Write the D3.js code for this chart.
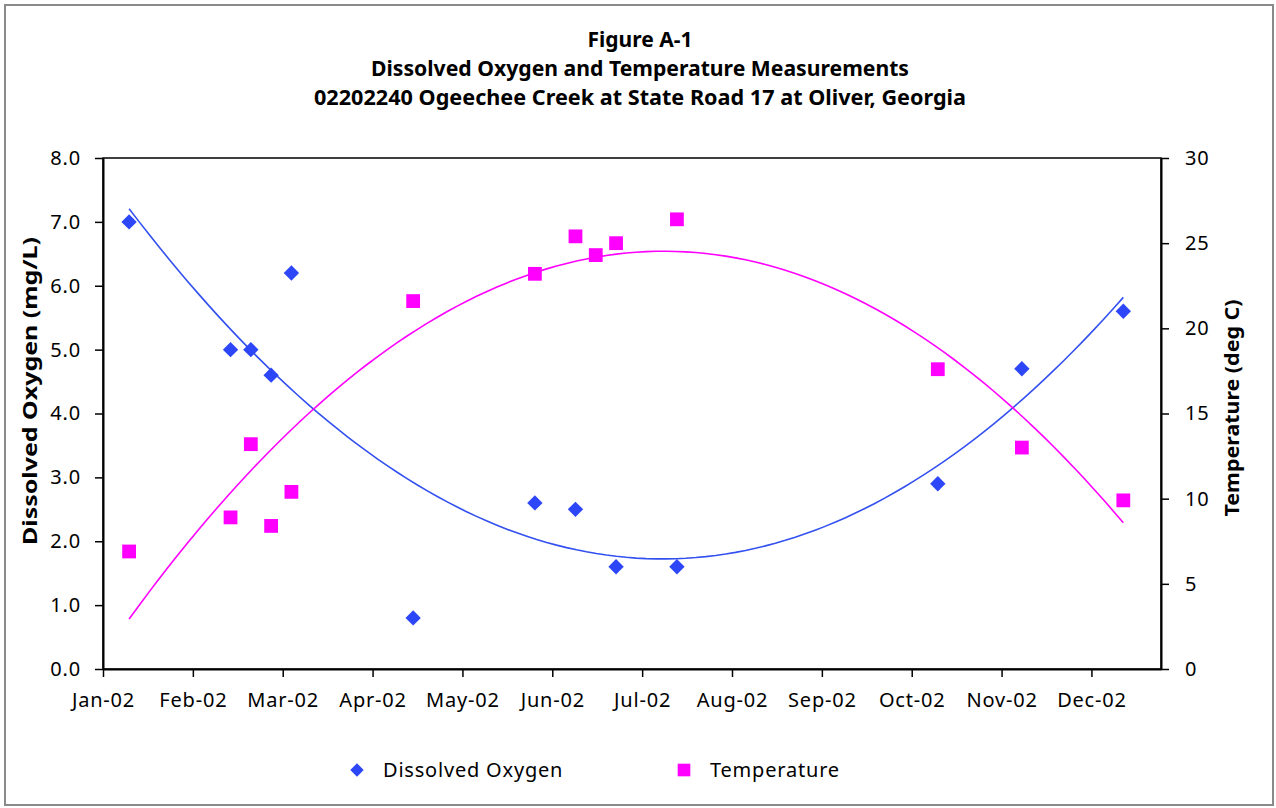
<!DOCTYPE html>
<html>
<head>
<meta charset="utf-8">
<script src="https://cdn.jsdelivr.net/npm/d3@7"></script>
<style>
  body { margin: 0; background: #fff; }
  text { font-family: "Noto Sans", sans-serif; fill: #000; }
</style>
</head>
<body>
<script>
const sampleDates = ["2002-01-10", "2002-02-14", "2002-02-21", "2002-02-28", "2002-03-07",
  "2002-04-18", "2002-05-30", "2002-06-13", "2002-06-20", "2002-06-27",
  "2002-07-18", "2002-10-16", "2002-11-14", "2002-12-19"];
const dissolvedOxygen = [7.0, 5.0, 5.0, 4.6, 6.2, 0.8, 2.6, 2.5, null, 1.6, 1.6, 2.9, 4.7, 5.6];
const temperature = [6.9, 8.9, 13.2, 8.4, 10.4, 21.6, 23.2, 25.4, 24.3, 25.0, 26.4, 17.6, 13.0, 9.9];

const leftTicks = [0, 1, 2, 3, 4, 5, 6, 7, 8];
const rightTicks = [0, 5, 10, 15, 20, 25, 30];
const titleLines = ["Figure A-1", "Dissolved Oxygen and Temperature Measurements",
  "02202240 Ogeechee Creek at State Road 17 at Oliver, Georgia"];
const seriesNames = ["Dissolved Oxygen", "Temperature"];

const config = { width: 1276, height: 808 };
const margin = { left: 103, right: 1161, top: 158, bottom: 669 };
const blue = "#2d47f8";
const magenta = "#ff00ff";

const parse = d3.utcParse("%Y-%m-%d");
const start = Date.UTC(2002, 0, 1);
const DAY = 864e5;

// x axis: Excel-style date axis, major unit 31 days
const x = d3.scaleUtc()
  .domain([new Date(start), new Date(Date.UTC(2003, 0, 1))])
  .range([margin.left, margin.right]);
const xTicks = d3.range(12).map(i => new Date(start + i * 31 * DAY));

const yL = d3.scaleLinear().domain([0, 8]).range([margin.bottom, margin.top]);
const yR = d3.scaleLinear().domain([0, 30]).range([margin.bottom, margin.top]);

const svg = d3.select("body").append("svg")
  .attr("width", config.width)
  .attr("height", config.height);

svg.append("rect")
  .attr("x", 5).attr("y", 5)
  .attr("width", 1268).attr("height", 800)
  .attr("fill", "#fff").attr("stroke", "#8a8a8a").attr("stroke-width", 2);

// Title
svg.append("g").selectAll("text")
  .data(titleLines)
  .join("text")
  .attr("x", 640)
  .attr("y", (d, i) => 47 + i * 29)
  .attr("text-anchor", "middle")
  .attr("font-size", "21px")
  .attr("font-weight", "bold")
  .attr("textLength", (d, i) => [105, 538, 652][i])
  .attr("lengthAdjust", "spacingAndGlyphs")
  .text(d => d);

// plot area border
svg.append("rect")
  .attr("x", margin.left).attr("y", margin.top)
  .attr("width", margin.right - margin.left)
  .attr("height", margin.bottom - margin.top)
  .attr("fill", "none").attr("stroke", "#000").attr("stroke-width", 1.5);

const styleAxis = g => {
  g.select(".domain").attr("stroke", "#000").attr("stroke-width", 2);
  g.selectAll(".tick line").attr("stroke", "#000").attr("stroke-width", 1.5);
  g.selectAll(".tick text")
    .attr("font-family", "Noto Sans")
    .attr("font-size", "20px")
    .attr("letter-spacing", "0.8px")
    .attr("fill", "#000");
};

svg.append("g")
  .attr("transform", `translate(0,${margin.bottom})`)
  .call(d3.axisBottom(x).tickValues(xTicks).tickFormat(d3.utcFormat("%b-%y"))
    .tickSizeInner(8).tickSizeOuter(0).tickPadding(16))
  .call(styleAxis);

svg.append("g")
  .attr("transform", `translate(${margin.left},0)`)
  .call(d3.axisLeft(yL).tickValues(leftTicks).tickFormat(d3.format(".1f"))
    .tickSizeInner(8).tickSizeOuter(0).tickPadding(14))
  .call(styleAxis);

svg.append("g")
  .attr("transform", `translate(${margin.right},0)`)
  .call(d3.axisRight(yR).tickValues(rightTicks)
    .tickSizeInner(8).tickSizeOuter(0).tickPadding(16))
  .call(styleAxis);

// axis titles
svg.append("text")
  .attr("transform", "translate(37,391) rotate(-90)")
  .attr("text-anchor", "middle")
  .attr("font-size", "20px").attr("font-weight", "bold")
  .attr("textLength", 308).attr("lengthAdjust", "spacingAndGlyphs")
  .text("Dissolved Oxygen (mg/L)");

svg.append("text")
  .attr("transform", "translate(1239,408) rotate(-90)")
  .attr("text-anchor", "middle")
  .attr("font-size", "20px").attr("font-weight", "bold")
  .attr("textLength", 217).attr("lengthAdjust", "spacingAndGlyphs")
  .text("Temperature (deg C)");

// build point sets
const doPts = sampleDates.map((d, i) => ({ date: parse(d), v: dissolvedOxygen[i] }))
  .filter(d => d.v !== null);
const tPts = sampleDates.map((d, i) => ({ date: parse(d), v: temperature[i] }));

// order-2 polynomial trendline, least squares (as Excel does)
function polyFit(pts) {
  const xs = pts.map(p => (p.date - start) / DAY);
  const ys = pts.map(p => p.v);
  const S = k => d3.sum(xs, v => Math.pow(v, k));
  const T = k => d3.sum(xs, (v, i) => Math.pow(v, k) * ys[i]);
  const A = [[S(0), S(1), S(2)], [S(1), S(2), S(3)], [S(2), S(3), S(4)]];
  const B = [T(0), T(1), T(2)];
  // gaussian elimination
  for (let c = 0; c < 3; c++) {
    for (let r = c + 1; r < 3; r++) {
      const f = A[r][c] / A[c][c];
      for (let k = c; k < 3; k++) A[r][k] -= f * A[c][k];
      B[r] -= f * B[c];
    }
  }
  const co = [0, 0, 0];
  for (let r = 2; r >= 0; r--) {
    let s = B[r];
    for (let k = r + 1; k < 3; k++) s -= A[r][k] * co[k];
    co[r] = s / A[r][r];
  }
  const x0 = d3.min(xs), x1 = d3.max(xs);
  return d3.range(0, 101).map(i => {
    const t = x0 + (x1 - x0) * i / 100;
    return { date: new Date(start + t * DAY), v: co[0] + co[1] * t + co[2] * t * t };
  });
}

const lineL = d3.line().x(d => x(d.date)).y(d => yL(d.v));
const lineR = d3.line().x(d => x(d.date)).y(d => yR(d.v));

svg.append("path")
  .attr("d", lineL(polyFit(doPts)))
  .attr("fill", "none").attr("stroke", "#3350f0").attr("stroke-width", 1.6);

svg.append("path")
  .attr("d", lineR(polyFit(tPts)))
  .attr("fill", "none").attr("stroke", magenta).attr("stroke-width", 1.6);

const diamond = d3.symbol().type(d3.symbolSquare).size(118);
const square = d3.symbol().type(d3.symbolSquare).size(190);

svg.append("g").selectAll("path")
  .data(doPts)
  .join("path")
  .attr("d", diamond)
  .attr("transform", d => `translate(${x(d.date)},${yL(d.v)}) rotate(45)`)
  .attr("fill", blue);

svg.append("g").selectAll("path")
  .data(tPts)
  .join("path")
  .attr("d", square)
  .attr("transform", d => `translate(${x(d.date)},${yR(d.v)})`)
  .attr("fill", magenta);

// legend
const legend = svg.append("g");
legend.append("path").attr("d", d3.symbol().type(d3.symbolSquare).size(90))
  .attr("transform", "translate(357,770) rotate(45)").attr("fill", blue);
legend.append("path").attr("d", d3.symbol().type(d3.symbolSquare).size(160))
  .attr("transform", "translate(684,770)").attr("fill", magenta);
legend.selectAll("text")
  .data(seriesNames)
  .join("text")
  .attr("x", (d, i) => [383, 710][i])
  .attr("y", 777)
  .attr("font-size", "20px")
  .attr("letter-spacing", "0.8px")
  .text(d => d);
</script>
</body>
</html>
